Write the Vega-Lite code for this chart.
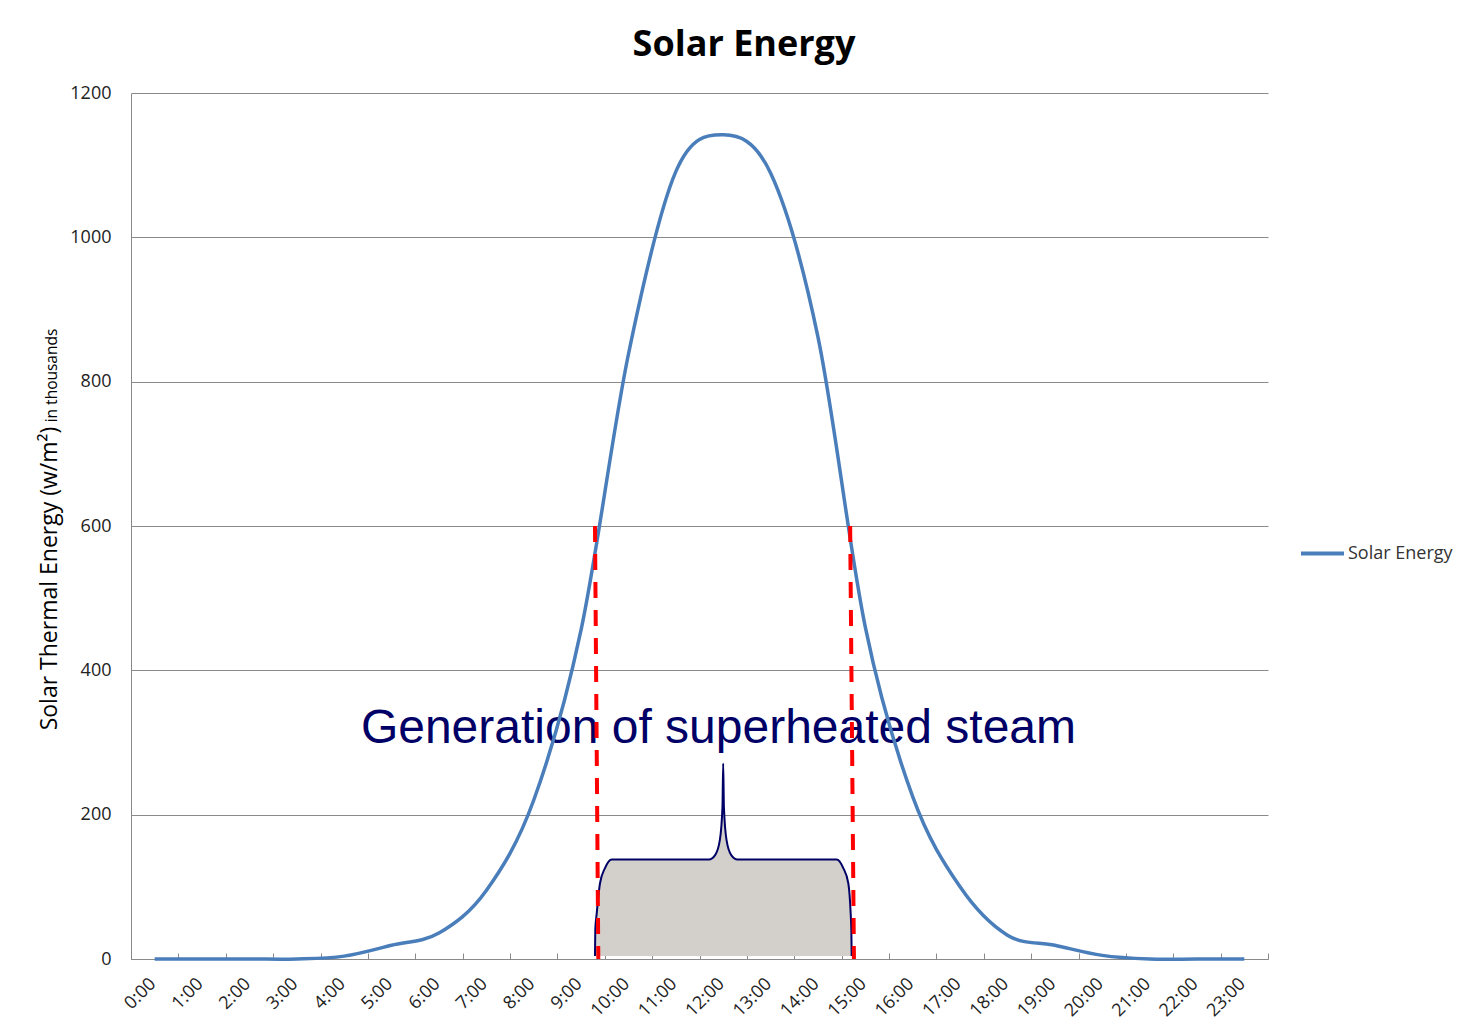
{
  "$schema": "https://vega.github.io/schema/vega-lite/v6.json",
  "width": 1137,
  "height": 866,
  "autosize": {"type": "none"},
  "padding": {"left": 131, "top": 93, "right": 196, "bottom": 76},
  "background": "white",
  "title": {
    "text": "Solar Energy",
    "font": "Open Sans",
    "fontSize": 36,
    "fontWeight": "bold",
    "color": "#000000",
    "anchor": "middle",
    "dx": 44.5,
    "offset": 20
  },
  "datasets": {
    "solar": [
      {"hour": 0, "energy": 0, "series": "Solar Energy"},
      {"hour": 1, "energy": 0, "series": "Solar Energy"},
      {"hour": 2, "energy": 0, "series": "Solar Energy"},
      {"hour": 3, "energy": 0, "series": "Solar Energy"},
      {"hour": 4, "energy": 4, "series": "Solar Energy"},
      {"hour": 5, "energy": 19, "series": "Solar Energy"},
      {"hour": 6, "energy": 36, "series": "Solar Energy"},
      {"hour": 7, "energy": 95, "series": "Solar Energy"},
      {"hour": 8, "energy": 220, "series": "Solar Energy"},
      {"hour": 9, "energy": 456, "series": "Solar Energy"},
      {"hour": 10, "energy": 838, "series": "Solar Energy"},
      {"hour": 11, "energy": 1091, "series": "Solar Energy"},
      {"hour": 12, "energy": 1142, "series": "Solar Energy"},
      {"hour": 13, "energy": 1089, "series": "Solar Energy"},
      {"hour": 14, "energy": 862, "series": "Solar Energy"},
      {"hour": 15, "energy": 460, "series": "Solar Energy"},
      {"hour": 16, "energy": 225, "series": "Solar Energy"},
      {"hour": 17, "energy": 100, "series": "Solar Energy"},
      {"hour": 18, "energy": 33, "series": "Solar Energy"},
      {"hour": 19, "energy": 19, "series": "Solar Energy"},
      {"hour": 20, "energy": 5, "series": "Solar Energy"},
      {"hour": 21, "energy": 0, "series": "Solar Energy"},
      {"hour": 22, "energy": 0, "series": "Solar Energy"},
      {"hour": 23, "energy": 0, "series": "Solar Energy"}
    ],
    "brace": [
      {"h": 9.294, "v": 4},
      {"h": 9.3, "v": 40},
      {"h": 9.33, "v": 63},
      {"h": 9.4, "v": 105},
      {"h": 9.505, "v": 126},
      {"h": 9.646, "v": 138},
      {"h": 11.7, "v": 138},
      {"h": 11.83, "v": 144},
      {"h": 11.93, "v": 165},
      {"h": 11.985, "v": 211},
      {"h": 12.0, "v": 271},
      {"h": 12.015, "v": 211},
      {"h": 12.07, "v": 165},
      {"h": 12.17, "v": 144},
      {"h": 12.3, "v": 138},
      {"h": 14.396, "v": 138},
      {"h": 14.535, "v": 126},
      {"h": 14.641, "v": 105},
      {"h": 14.691, "v": 63},
      {"h": 14.705, "v": 40},
      {"h": 14.712, "v": 4}
    ],
    "bounds": [
      {"x_top": 9.294, "x_bottom": 9.364, "top": 600, "bottom": 0},
      {"x_top": 14.68, "x_bottom": 14.76, "top": 600, "bottom": 0}
    ],
    "note": [
      {"hour": 11.9, "value": 299, "label": "Generation of superheated steam"}
    ]
  },
  "layer": [
    {
      "data": {"name": "note"},
      "mark": {"type": "text", "font": "Liberation Sans", "fontSize": 48, "color": "#000066", "align": "center", "baseline": "alphabetic"},
      "encoding": {
        "x": {"field": "hour", "type": "quantitative", "scale": {"domain": [-0.5, 23.5], "nice": false, "zero": false}, "axis": null},
        "y": {"field": "value", "type": "quantitative", "scale": {"domain": [0, 1200], "nice": false}, "axis": null},
        "text": {"field": "label"}
      }
    },
    {
      "data": {"name": "brace"},
      "mark": {"type": "area", "interpolate": "monotone", "color": "#d3d0cb", "opacity": 1},
      "encoding": {
        "x": {"field": "h", "type": "quantitative", "scale": {"domain": [-0.5, 23.5], "nice": false, "zero": false}, "axis": null},
        "y": {"field": "v", "type": "quantitative", "scale": {"domain": [0, 1200], "nice": false}, "axis": null},
        "y2": {"datum": 4}
      }
    },
    {
      "data": {"name": "brace"},
      "mark": {"type": "line", "interpolate": "monotone", "color": "#000066", "strokeWidth": 2},
      "encoding": {
        "x": {"field": "h", "type": "quantitative", "scale": {"domain": [-0.5, 23.5], "nice": false, "zero": false}, "axis": null},
        "y": {
          "field": "v",
          "type": "quantitative",
          "scale": {"domain": [0, 1200], "nice": false},
          "axis": {
            "orient": "left",
            "labels": false,
            "ticks": false,
            "domain": false,
            "grid": false,
            "title": "in thousands",
            "titleFont": "Open Sans",
            "titleFontSize": 15.5,
            "titleFontWeight": "normal",
            "titleColor": "#000000",
            "titleAngle": -90,
            "titleAlign": "center",
            "titleBaseline": "alphabetic",
            "titleX": -75,
            "titleY": 282
          }
        }
      }
    },
    {
      "data": {"name": "solar"},
      "mark": {"type": "line", "interpolate": "cardinal", "tension": 0, "strokeWidth": 3.5},
      "encoding": {
        "x": {
          "field": "hour",
          "type": "quantitative",
          "scale": {"domain": [-0.5, 23.5], "nice": false, "zero": false},
          "axis": {
            "orient": "bottom",
            "values": [-0.5, 0.5, 1.5, 2.5, 3.5, 4.5, 5.5, 6.5, 7.5, 8.5, 9.5, 10.5, 11.5, 12.5, 13.5, 14.5, 15.5, 16.5, 17.5, 18.5, 19.5, 20.5, 21.5, 22.5, 23.5],
            "labelExpr": "datum.value < 23 ? format(datum.value + 0.5, 'd') + ':00' : ''",
            "labelOffset": 21.7,
            "labelAngle": -45,
            "labelAlign": "right",
            "labelBaseline": "middle",
            "labelOverlap": false,
            "labelFlush": false,
            "labelBound": false,
            "labelFont": "Open Sans",
            "labelFontSize": 18,
            "labelColor": "#222222",
            "labelPadding": 28,
            "tickSize": -6,
            "tickColor": "#8a8a8a",
            "tickWidth": 1,
            "domainColor": "#8a8a8a",
            "domainWidth": 1,
            "grid": false,
            "title": null
          }
        },
        "y": {
          "field": "energy",
          "type": "quantitative",
          "scale": {"domain": [0, 1200], "nice": false},
          "axis": {
            "orient": "left",
            "values": [0, 200, 400, 600, 800, 1000, 1200],
            "format": "d",
            "grid": true,
            "gridColor": "#8a8a8a",
            "gridWidth": 1,
            "domainColor": "#8a8a8a",
            "domainWidth": 1,
            "ticks": false,
            "labelPadding": 20,
            "labelFont": "Open Sans",
            "labelFontSize": 18,
            "labelColor": "#222222",
            "labelFlush": false,
            "labelBound": false,
            "labelOverlap": false,
            "title": "Solar Thermal Energy (w/m²)",
            "titleFont": "Open Sans",
            "titleFontSize": 23,
            "titleFontWeight": "normal",
            "titleColor": "#000000",
            "titleAngle": -90,
            "titleAlign": "center",
            "titleBaseline": "alphabetic",
            "titleX": -75,
            "titleY": 485
          }
        },
        "color": {
          "field": "series",
          "type": "nominal",
          "scale": {"range": ["#4A7EBB"]},
          "legend": {
            "orient": "none",
            "legendX": 1168,
            "legendY": 437,
            "title": null,
            "symbolType": "stroke",
            "symbolSize": 1849,
            "symbolStrokeWidth": 4,
            "labelFont": "Open Sans",
            "labelFontSize": 18,
            "labelColor": "#333333",
            "labelOffset": 2,
            "padding": 0
          }
        }
      }
    },
    {
      "data": {"name": "bounds"},
      "mark": {"type": "rule", "color": "#ff0000", "strokeWidth": 4, "strokeDash": [16, 12]},
      "encoding": {
        "x": {"field": "x_top", "type": "quantitative", "scale": {"domain": [-0.5, 23.5], "nice": false, "zero": false}, "axis": null},
        "x2": {"field": "x_bottom"},
        "y": {"field": "top", "type": "quantitative", "scale": {"domain": [0, 1200], "nice": false}, "axis": null},
        "y2": {"field": "bottom"}
      }
    }
  ],
  "resolve": {"axis": {"x": "independent", "y": "independent"}},
  "config": {
    "view": {"stroke": null},
    "font": "Open Sans"
  }
}
